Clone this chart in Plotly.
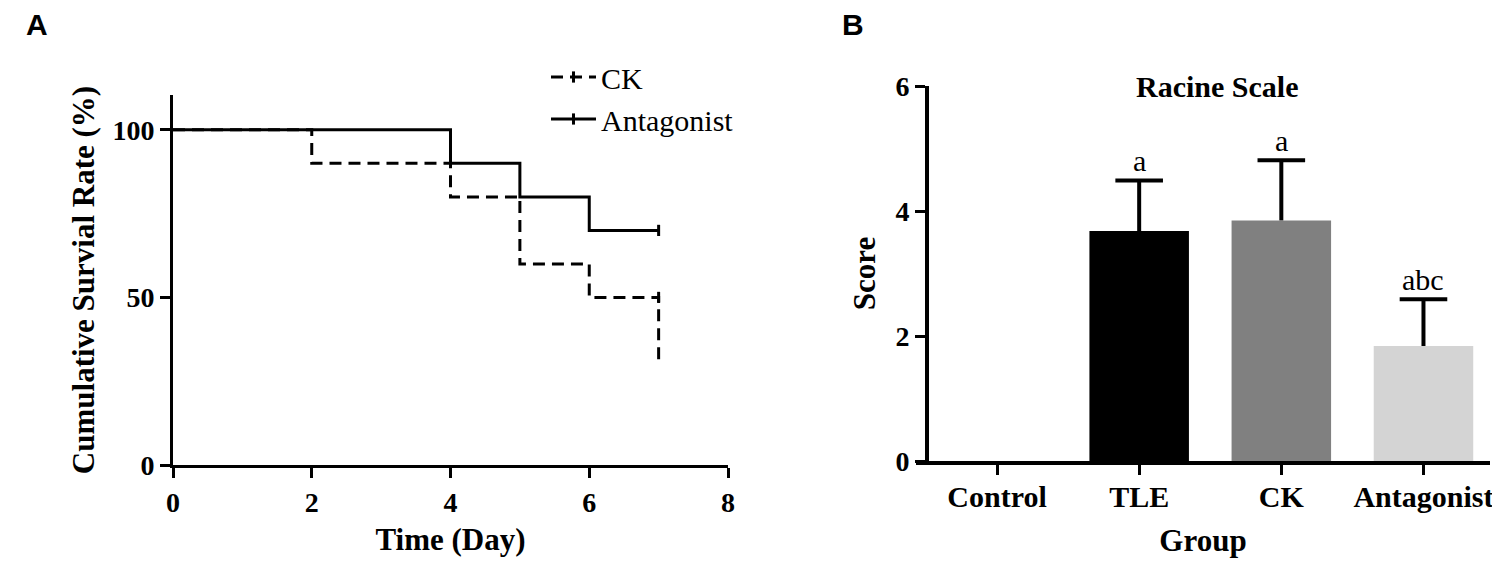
import plotly.graph_objects as go

# ---------------- Panel A: survival curves ----------------
ck_day = [0, 2, 4, 5, 6, 7, 7]
ck_rate = [100, 90, 80, 60, 50, 50, 30]
ck_censor_day = [7]
ck_censor_rate = [50]

ant_day = [0, 4, 5, 6, 7]
ant_rate = [100, 90, 80, 70, 70]
ant_censor_day = [7]
ant_censor_rate = [70]

time_ticks = [0, 2, 4, 6, 8]
rate_ticks = [0, 50, 100]

# ---------------- Panel B: Racine scale ----------------
groups = ["Control", "TLE", "CK", "Antagonist"]
scores = [0, 3.68, 3.85, 1.84]
score_err = [0, 0.81, 0.96, 0.75]
sig_labels = ["", "a", "a", "abc"]
bar_colors = ["#000000", "#000000", "#808080", "#d4d4d4"]
score_ticks = [0, 2, 4, 6]

SERIF = "Liberation Serif"
SANS = "Liberation Sans"
# the page body has an 8px margin, so the figure is sized to fit the 1500x567 window
OFF = 8
W, H = 1500 - 2 * OFF, 567 - 2 * OFF

def px_x(p):
    return (p - OFF) / W

def px_y(p):
    return 1 - (p - OFF) / H

fig = go.Figure()

dash_ck = "12px,7px"

fig.add_trace(go.Scatter(
    x=ck_day, y=ck_rate, mode="lines",
    line=dict(shape="hv", color="black", width=3, dash=dash_ck),
    showlegend=False, hoverinfo="skip", xaxis="x", yaxis="y"))
fig.add_trace(go.Scatter(
    x=ant_day, y=ant_rate, mode="lines",
    line=dict(shape="hv", color="black", width=3),
    showlegend=False, hoverinfo="skip", xaxis="x", yaxis="y"))
fig.add_trace(go.Scatter(
    x=ck_censor_day, y=ck_censor_rate, mode="lines+markers", name="CK",
    line=dict(color="black", width=3, dash=dash_ck),
    marker=dict(symbol="line-ns", size=8, color="black",
                line=dict(width=3, color="black")),
    xaxis="x", yaxis="y"))
fig.add_trace(go.Scatter(
    x=ant_censor_day, y=ant_censor_rate, mode="lines+markers", name="Antagonist",
    line=dict(color="black", width=3),
    marker=dict(symbol="line-ns", size=8, color="black",
                line=dict(width=3, color="black")),
    xaxis="x", yaxis="y"))

# Bars
fig.add_trace(go.Bar(
    x=groups, y=scores, width=0.7,
    marker=dict(color=bar_colors, line=dict(width=0)),
    showlegend=False, hoverinfo="skip", xaxis="x2", yaxis="y2"))

# Error bars (upper only): cap marker + stem
err_top = [s + e if e > 0 else None for s, e in zip(scores, score_err)]
fig.add_trace(go.Scatter(
    x=groups, y=err_top, mode="markers",
    marker=dict(symbol="line-ew", size=34, color="black",
                line=dict(width=4, color="black")),
    error_y=dict(type="data", symmetric=False,
                 array=[0] * len(groups), arrayminus=score_err,
                 width=0, thickness=4, color="black"),
    showlegend=False, hoverinfo="skip", xaxis="x2", yaxis="y2"))

annotations = []
for g, t, lab in zip(groups, err_top, sig_labels):
    if t is None or not lab:
        continue
    annotations.append(dict(
        x=g, y=t, xref="x2", yref="y2", text=lab, showarrow=False,
        yanchor="bottom", yshift=1,
        font=dict(family=SERIF, size=30, color="black")))

annotations += [
    dict(x=px_x(1217), y=px_y(87), xref="paper", yref="paper",
         text="Racine Scale", showarrow=False, xanchor="center", yanchor="middle",
         font=dict(family=SERIF, size=30, color="black", weight="bold")),
    dict(x=px_x(37), y=px_y(24), xref="paper", yref="paper",
         text="A", showarrow=False, xanchor="center", yanchor="middle",
         font=dict(family=SANS, size=30, color="black", weight="bold")),
    dict(x=px_x(853), y=px_y(24), xref="paper", yref="paper",
         text="B", showarrow=False, xanchor="center", yanchor="middle",
         font=dict(family=SANS, size=30, color="black", weight="bold")),
]

tickfontA = dict(family=SERIF, size=28, color="black", weight="bold")
titlefont = dict(family=SERIF, size=31, color="black", weight="bold")
tickfontB = dict(family=SERIF, size=30, color="black", weight="bold")

common = dict(showgrid=False, zeroline=False, showline=True, linecolor="black",
              ticks="outside", tickcolor="black", fixedrange=True)

fig.update_layout(
    width=W, height=H,
    margin=dict(l=0, r=0, t=0, b=0, pad=0, autoexpand=False),
    paper_bgcolor="white", plot_bgcolor="white",
    showlegend=True,
    legend=dict(x=px_x(546), y=px_y(51), xanchor="left", yanchor="top",
                font=dict(family=SERIF, size=30, color="black"),
                bgcolor="rgba(0,0,0,0)", itemwidth=45, tracegroupgap=0),
    xaxis=dict(domain=[px_x(173), px_x(728)], range=[0, 8], tickvals=time_ticks,
               linewidth=3, ticklen=10, tickwidth=3, tickfont=tickfontA,
               title=dict(text="Time (Day)", font=titlefont, standoff=12),
               anchor="y", **common),
    yaxis=dict(domain=[px_y(465), px_y(95)], range=[0, 110.4], tickvals=rate_ticks,
               linewidth=3, ticklen=10, tickwidth=3, tickfont=tickfontA,
               title=dict(text="Cumulative Survial Rate (%)", font=titlefont, standoff=9),
               anchor="x", **common),
    xaxis2=dict(domain=[px_x(916), px_x(1490)], range=[-0.570, 3.468],
                type="category", categoryorder="array", categoryarray=groups,
                linewidth=4, ticklen=10, tickwidth=3, tickfont=tickfontB,
                ticklabelstandoff=-4,
                title=dict(text="Group", font=titlefont, standoff=18),
                anchor="y2", **common),
    yaxis2=dict(domain=[px_y(461), px_y(86)], range=[0, 6], tickvals=score_ticks,
                anchor="free", position=px_x(927),
                linewidth=4, ticklen=10, tickwidth=3,
                tickfont=dict(family=SERIF, size=28, color="black", weight="bold"),
                title=dict(text="Score", font=titlefont, standoff=10),
                **common),
    annotations=annotations,
)

fig.write_html("out.html")
